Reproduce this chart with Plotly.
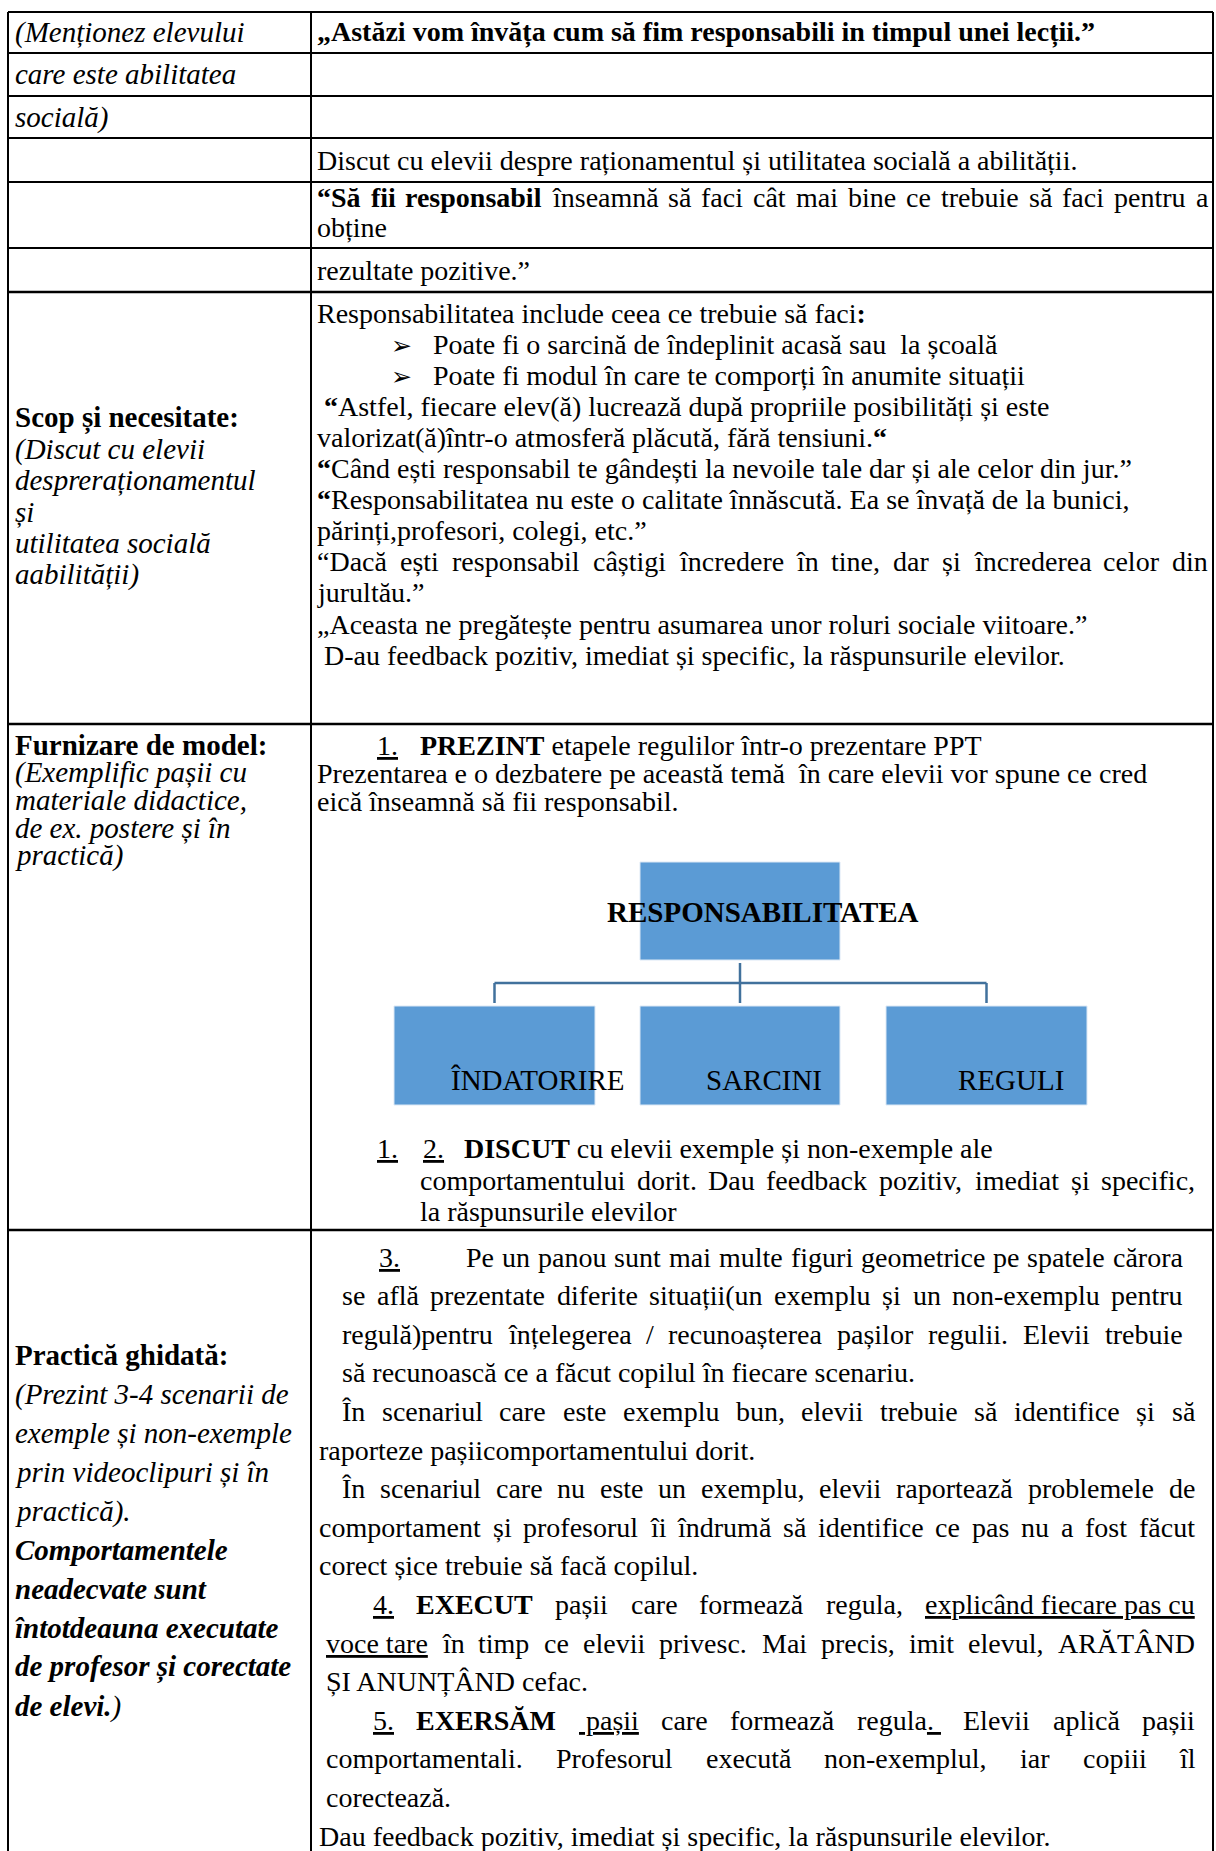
import unicodedata
import plotly.graph_objects as go

# ---------------- DATA (text content) ----------------
TOP_LEFT = ["(Menționez elevului", "care este abilitatea", "socială)"]
TOP_TITLE = "<b>„Astăzi vom învăța cum să fim responsabili in timpul unei lecții.”</b>"
TOP_RIGHT = [
    "Discut cu elevii despre raționamentul și utilitatea socială a abilității.",
    "<b>“Să</b> <b>fii</b> <b>responsabil</b> înseamnă să faci cât mai bine ce trebuie să faci pentru a",
    "obține",
    "rezultate pozitive.”",
]

SCOP_LEFT_TITLE = "Scop și necesitate:"
SCOP_LEFT = ["(Discut cu elevii", "despreraționamentul", "și", "utilitatea socială", "aabilității)"]
SCOP_INTRO = "Responsabilitatea include ceea ce trebuie să faci<b>:</b>"
SCOP_BULLETS = ["Poate fi o sarcină de îndeplinit acasă sau\u00a0 la școală",
                "Poate fi modul în care te comporți în anumite situații"]
SCOP_LINES = [
    "\u00a0<b>“</b>Astfel, fiecare elev(ă) lucrează după propriile posibilități și este",
    "valorizat(ă)într-o atmosferă plăcută, fără tensiuni.<b>“</b>",
    "<b>“</b>Când ești responsabil te gândești la nevoile tale dar și ale celor din jur.”",
    "<b>“</b>Responsabilitatea nu este o calitate înnăscută. Ea se învață de la bunici,",
    "părinți,profesori, colegi, etc.”",
    "“Dacă ești responsabil câștigi încredere în tine, dar și încrederea celor din",
    "jurultău.”",
    "„Aceasta ne pregătește pentru asumarea unor roluri sociale viitoare.”",
    "\u00a0D-au feedback pozitiv, imediat și specific, la răspunsurile elevilor.",
]

MODEL_LEFT_TITLE = "Furnizare de model:"
MODEL_LEFT = ["(Exemplific pașii cu", "materiale didactice,", "de ex. postere și în", "practică)"]
MODEL_RIGHT = [
    "<b>PREZINT</b> etapele regulilor într-o prezentare PPT",
    "Prezentarea e o dezbatere pe această temă\u00a0 în care elevii vor spune ce cred",
    "eică înseamnă să fii responsabil.",
]
TREE_ROOT = "RESPONSABILITATEA"
TREE_CHILDREN = ["ÎNDATORIRE", "SARCINI", "REGULI"]
DISCUT_LINES = [
    "<b>DISCUT</b> cu elevii exemple și non-exemple ale",
    "comportamentului dorit. Dau feedback pozitiv, imediat și specific,",
    "la răspunsurile elevilor",
]
LIST_NUMBERS = ["1.", "2.", "3."]

PRACT_LEFT_TITLE = "Practică ghidată:"
PRACT_LEFT_ITALIC = ["(Prezint 3-4 scenarii de", "exemple și non-exemple",
                     "prin videoclipuri și în", "practică)."]
PRACT_LEFT_BOLDITALIC = ["Comportamentele", "neadecvate sunt", "întotdeauna executate",
                         "de profesor și corectate", "de elevi."]
PRACT_RIGHT = [
    "Pe un panou sunt mai multe figuri geometrice pe spatele cărora",
    "se află prezentate diferite situații(un exemplu și un non-exemplu pentru",
    "regulă)pentru înțelegerea / recunoașterea pașilor regulii. Elevii trebuie",
    "să recunoască ce a făcut copilul în fiecare scenariu.",
    "În scenariul care este exemplu bun, elevii trebuie să identifice și să",
    "raporteze pașiicomportamentului dorit.",
    "În scenariul care nu este un exemplu, elevii raportează problemele de",
    "comportament și profesorul îi îndrumă să identifice ce pas nu a fost făcut",
    "corect șice trebuie să facă copilul.",
    "<u>4.</u> <b>EXECUT</b> pașii care formează regula, <u>explicând\u00a0fiecare\u00a0pas\u00a0cu</u>",
    "<u>voce\u00a0tare</u> în timp ce elevii privesc. Mai precis, imit elevul, ARĂTÂND",
    "ȘI ANUNȚÂND cefac.",
    "<u>5.</u> <b>EXERSĂM</b> <u>\u00a0pașii</u> care formează regula<u>.\u00a0</u> Elevii aplică pașii",
    "comportamentali. Profesorul execută non-exemplul, iar copiii îl",
    "corectează.",
    "Dau feedback pozitiv, imediat și specific, la răspunsurile elevilor.",
]

# ---------------- STYLE / METRICS ----------------
SERIF = "Liberation Serif, Times New Roman, serif"
FS = 28
FS_LEFT = 29
BOX_FILL = "#5B9BD5"
CONN = "#41719C"

UP = "ABCDEFGHIJKLMNOPQRSTUVWXYZ"
LO = "abcdefghijklmnopqrstuvwxyz"
REG = dict(zip(UP, [722, 667, 667, 722, 611, 556, 722, 722, 333, 389, 722, 611, 889, 722, 722, 556,
                    722, 667, 556, 611, 722, 722, 944, 722, 722, 611]))
REG.update(zip(LO, [444, 500, 444, 500, 444, 333, 500, 500, 278, 278, 500, 278, 778, 500, 500, 500,
                    500, 333, 389, 278, 500, 500, 722, 500, 500, 444]))
REG.update({' ': 250, '\u00a0': 250, '.': 250, ',': 250, ':': 278, ';': 278, '(': 333, ')': 333,
            '-': 333, '/': 278, '“': 444, '”': 444, '„': 444})
BOLD = dict(zip(UP, [722, 667, 722, 722, 667, 611, 778, 778, 389, 500, 778, 667, 944, 722, 778, 611,
                     778, 722, 556, 667, 722, 722, 1000, 722, 722, 667]))
BOLD.update(zip(LO, [500, 556, 444, 556, 444, 333, 500, 556, 278, 333, 556, 278, 833, 556, 500, 556,
                     556, 444, 389, 333, 556, 500, 722, 500, 500, 444]))
BOLD.update({' ': 250, '\u00a0': 250, '.': 250, ',': 250, ':': 333, ';': 333, '(': 333, ')': 333,
             '-': 333, '/': 278, '“': 500, '”': 500, '„': 500})
for d in "0123456789":
    REG[d] = 500
    BOLD[d] = 500


def cw(c, bold):
    t = BOLD if bold else REG
    if c in t:
        return t[c]
    return t.get(unicodedata.normalize('NFD', c)[0], 500)


def html_width(s, size):
    bold = False
    w = 0
    i = 0
    while i < len(s):
        if s[i] == '<':
            j = s.index('>', i)
            tag = s[i + 1:j]
            if tag in ('b', 'em'):
                bold = True
            elif tag in ('/b', '/em'):
                bold = False
            i = j + 1
            continue
        w += cw(s[i], bold)
        i += 1
    return w * size / 1000.0


W, H = 1216, 1851
fig = go.Figure()
fig.add_trace(go.Scatter(x=[0, W], y=[0, H], mode="markers", marker=dict(opacity=0),
                         hoverinfo="skip", showlegend=False))
fig.update_layout(width=W, height=H, margin=dict(l=0, r=0, t=0, b=0),
                  paper_bgcolor="white", plot_bgcolor="white", showlegend=False,
                  xaxis=dict(range=[0, W], visible=False, fixedrange=True),
                  yaxis=dict(range=[H, 0], visible=False, fixedrange=True))


def text(x, y, s, size=FS, anchor="left", family=SERIF):
    fig.add_annotation(x=x, y=y, xref="x", yref="y", text=s, showarrow=False,
                       xanchor=anchor, yanchor="middle", borderpad=0,
                       font=dict(family=family, size=size, color="black"))


def line_text(x0, y, s, x1=None, size=FS):
    if x1 is None:
        text(x0, y, s, size)
        return
    units = s.split(' ')
    widths = [html_width(u, size) for u in units]
    gap = (x1 - x0 - sum(widths)) / max(1, len(units) - 1)
    gap = max(gap, 0.2 * size)
    x = x0
    for u, w in zip(units, widths):
        text(x, y, u, size)
        x += w + gap


def hline(y, x0, x1, w=2, color="black"):
    fig.add_shape(type="line", x0=x0, x1=x1, y0=y, y1=y, xref="x", yref="y",
                  line=dict(color=color, width=w))


def vline(x, y0, y1, w=2, color="black"):
    fig.add_shape(type="line", x0=x, x1=x, y0=y0, y1=y1, xref="x", yref="y",
                  line=dict(color=color, width=w))


# ---------------- TABLE GRID ----------------
XL, XD, XR = 8, 311, 1213
ROW_LINES = [12, 53, 96, 138, 182, 248, 292, 724, 1230]
for yy in ROW_LINES:
    hline(yy, XL, XR, w=2.5 if yy in (292, 724, 1230) else 2)
for xx in (XL, XD, XR):
    vline(xx, ROW_LINES[0], H + 5, w=2)

LX = 14      # left column text start
RX = 316     # right column text start

# ---------------- TOP ROWS ----------------
for s, y in zip(TOP_LEFT, [32, 74, 117]):
    text(LX, y, f"<i>{s}</i>", FS_LEFT)
text(RX, 32, TOP_TITLE)
text(RX, 160, TOP_RIGHT[0])
line_text(RX, 197, TOP_RIGHT[1], 1207)
text(RX, 227, TOP_RIGHT[2])
text(RX, 270, TOP_RIGHT[3])

# ---------------- SCOP ----------------
sp = 31.1
y0 = 313
text(RX, y0, SCOP_INTRO)
for k, b in enumerate(SCOP_BULLETS):
    yy = y0 + sp * (k + 1)
    text(390, yy + 1, "➢", 25, family="DejaVu Sans")
    text(432, yy, b)
for k, s in enumerate(SCOP_LINES):
    yy = y0 + sp * (k + 3)
    if k == 5:
        line_text(RX, yy, s, 1207)
    else:
        text(RX, yy, s)
ly = 418
text(LX, ly, f"<b>{SCOP_LEFT_TITLE}</b>", FS_LEFT)
for k, s in enumerate(SCOP_LEFT):
    text(LX, ly + 31.2 * (k + 1), f"<i>{s}</i>", FS_LEFT)

# ---------------- FURNIZARE DE MODEL ----------------
my = [745, 773, 801]
text(LX, my[0], f"<b>{MODEL_LEFT_TITLE}</b>", FS_LEFT)
for k, s in enumerate(MODEL_LEFT):
    text(LX, 745 + 27.6 * (k + 1), f"<i>{s}</i>", FS_LEFT)
text(376, my[0], f"<u>{LIST_NUMBERS[0]}</u>")
text(419, my[0], MODEL_RIGHT[0])
text(RX, my[1], MODEL_RIGHT[1])
text(RX, my[2], MODEL_RIGHT[2])

# diagram
root = dict(x0=640, x1=840, y0=862, y1=960)
kids_x = [(394, 595), (640, 840), (886, 1087)]
ky0, ky1 = 1006, 1105
fig.add_shape(type="rect", xref="x", yref="y", **root, fillcolor=BOX_FILL,
              line=dict(color="#DCE8F5", width=1), layer="below")
for (a, b) in kids_x:
    fig.add_shape(type="rect", xref="x", yref="y", x0=a, x1=b, y0=ky0, y1=ky1,
                  fillcolor=BOX_FILL, line=dict(color="#DCE8F5", width=1), layer="below")
cx = (root["x0"] + root["x1"]) / 2
vline(cx, 963, 1003, w=2.5, color=CONN)
hline(983, (kids_x[0][0] + kids_x[0][1]) / 2, (kids_x[2][0] + kids_x[2][1]) / 2, w=2.5, color=CONN)
for (a, b) in (kids_x[0], kids_x[2]):
    vline((a + b) / 2, 983, 1003, w=2.5, color=CONN)
text(cx + 23, 912, f"<b>{TREE_ROOT}</b>", 29, anchor="center")
for (a, b), lab, off in zip(kids_x, TREE_CHILDREN, [43, 24, 24]):
    text((a + b) / 2 + off, 1080, lab, 29, anchor="center")

# DISCUT list item
dy = [1148, 1180, 1211]
text(376, dy[0], f"<u>{LIST_NUMBERS[0]}</u>")
text(422, dy[0], f"<u>{LIST_NUMBERS[1]}</u>")
text(463, dy[0], DISCUT_LINES[0])
line_text(419, dy[1], DISCUT_LINES[1], 1194)
text(419, dy[2], DISCUT_LINES[2])

# ---------------- PRACTICĂ GHIDATĂ ----------------
p_start = [465, 341, 341, 341, 341, 318, 341, 318, 318, 372, 325, 325, 372, 325, 325, 318]
p_just = [1182, 1182, 1182, None, 1194, None, 1194, 1194, None, 1194, 1194, None, 1194, 1194,
          None, None]
py0, psp = 1257, 38.6
text(378, py0, f"<u>{LIST_NUMBERS[2]}</u>")
for k, s in enumerate(PRACT_RIGHT):
    line_text(p_start[k], py0 + psp * k, s, p_just[k])

ply, plsp = 1355, 39.0
text(LX, ply, f"<b>{PRACT_LEFT_TITLE}</b>", FS_LEFT)
k = 1
for s in PRACT_LEFT_ITALIC:
    text(LX, ply + plsp * k, f"<i>{s}</i>", FS_LEFT)
    k += 1
for j, s in enumerate(PRACT_LEFT_BOLDITALIC):
    tail = "<i>)</i>" if j == len(PRACT_LEFT_BOLDITALIC) - 1 else ""
    text(LX, ply + plsp * k, f"<em>{s}</em>{tail}", FS_LEFT)
    k += 1

fig.write_html("out.html", config={"displayModeBar": False, "staticPlot": True},
               post_script="document.body.style.margin='0';document.body.style.overflow='hidden';")
